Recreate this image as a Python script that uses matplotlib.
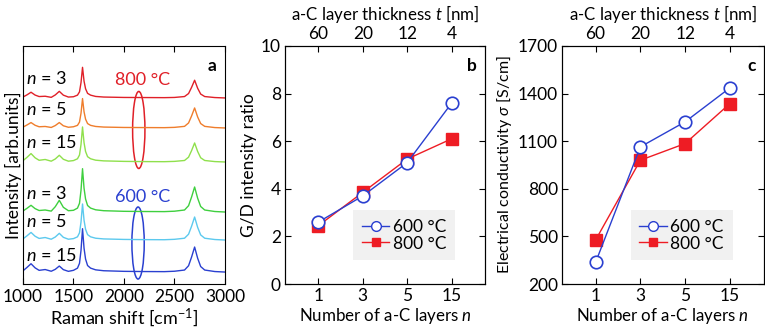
import numpy as np
import matplotlib
matplotlib.use('Agg')
import matplotlib.pyplot as plt
from matplotlib.patches import Ellipse
from matplotlib.lines import Line2D

plt.rcParams['font.family'] = ['Lato', 'DejaVu Sans']
plt.rcParams['font.size'] = 12
plt.rcParams['mathtext.fontset'] = 'custom'
plt.rcParams['mathtext.it'] = 'Lato:italic'
plt.rcParams['mathtext.rm'] = 'Lato'

# ---- panel a: Raman spectra (intensity above own baseline, arb. units) ----
raman_x = [1000, 1040, 1080, 1120, 1160, 1220, 1280, 1320, 1360, 1400, 1450, 1500,
           1540, 1560, 1575, 1590, 1605, 1620, 1640, 1670, 1720, 1800, 2000, 2200,
           2400, 2500, 2600, 2640, 2670, 2700, 2730, 2760, 2800, 2900, 3000]
spec_800_n3 = [0.9, 3.1, 5.7, 2.9, 1.4, 1.7, 0.6, 3.0, 6.6, 2.8, 0.9, 1.2, 2.8, 6.1, 15.3, 30.6,
               16.8, 9.2, 4.6, 2.8, 1.5, 0.9, 0.5, 0.4, 0.3, 0.5, 1.4, 4.4, 10.6, 17.7, 9.7, 3.9,
               1.4, 0.4, 0.0]
spec_800_n5 = [0.8, 3.0, 5.4, 2.7, 1.2, 1.5, 0.5, 2.4, 5.4, 2.2, 0.7, 1.2, 2.6, 5.9, 14.7, 29.4,
               16.2, 8.8, 4.4, 2.6, 1.5, 0.9, 0.5, 0.4, 0.3, 0.6, 1.6, 5.0, 12.0, 20.0, 11.0, 4.4,
               1.6, 0.4, 0.0]
spec_800_n15 = [1.3, 4.6, 8.4, 4.2, 1.7, 2.5, 0.8, 3.0, 6.7, 2.7, 0.8, 1.4, 3.2, 7.0, 17.5, 35.0,
                19.3, 10.5, 5.3, 3.2, 1.8, 1.1, 0.6, 0.4, 0.3, 0.6, 1.5, 4.8, 11.4, 19.0, 10.5, 4.2,
                1.5, 0.4, 0.0]
spec_600_n3 = [1.0, 3.7, 6.7, 3.4, 1.5, 2.0, 0.9, 5.3, 11.7, 4.7, 1.3, 1.7, 3.9, 8.7, 21.7, 43.3,
               23.8, 13.0, 6.5, 3.9, 2.2, 1.3, 0.7, 0.5, 0.4, 0.8, 2.0, 6.3, 15.0, 25.0, 13.8, 5.5,
               2.0, 0.5, 0.0]
spec_600_n5 = [1.1, 4.2, 7.6, 3.8, 1.6, 2.5, 0.8, 3.0, 6.7, 2.7, 0.8, 1.4, 3.2, 7.2, 18.0, 36.0,
               19.8, 10.8, 5.4, 3.2, 1.8, 1.1, 0.6, 0.4, 0.3, 0.7, 1.8, 5.8, 13.8, 23.0, 12.7, 5.1,
               1.8, 0.5, 0.0]
spec_600_n15 = [1.2, 4.6, 8.3, 4.2, 1.7, 2.5, 0.8, 2.7, 6.0, 2.4, 0.7, 1.7, 3.9, 8.7, 21.7, 43.3,
                23.8, 13.0, 6.5, 3.9, 2.2, 1.3, 0.7, 0.5, 0.4, 0.8, 2.0, 6.3, 15.0, 25.0, 13.8, 5.5,
                2.0, 0.5, 0.0]
spec_labels = ['3', '5', '15', '3', '5', '15']

# ---- panels b and c ----
n_layers = ['1', '3', '5', '15']
thickness = ['60', '20', '12', '4']
gd_600 = [2.6, 3.7, 5.1, 7.6]
gd_800 = [2.45, 3.85, 5.25, 6.1]
sigma_600 = [336, 1064, 1222, 1436]
sigma_800 = [477, 980, 1085, 1337]

c600 = '#2a3fd0'
c800 = '#ee1c24'
TICK = 12.5

fig = plt.figure(figsize=(7.65, 3.28), dpi=100)

# ---------- panel a ----------
ax = fig.add_axes([0.030, 0.134, 0.264, 0.726])
spectra = [spec_800_n3, spec_800_n5, spec_800_n15, spec_600_n3, spec_600_n5, spec_600_n15]
colors = ['#e02028', '#ef7d2c', '#8fe04c', '#3fcf3f', '#5cc9ee', '#2a40d0']
offsets = [186, 156, 122, 72, 44, 12]
label_y = [205.7, 174, 141.3, 90.7, 62.3, 29]
for s, c, off, lab, ly in zip(spectra, colors, offsets, spec_labels, label_y):
    ax.plot(raman_x, np.array(s) + off, color=c, lw=1.0)
    ax.text(1030, ly, '$n$ = ' + lab, fontsize=13, va='center', ha='left')

ax.add_patch(Ellipse((2147, 154), 122, 77, fill=False, ec='#e02028', lw=1.1))
ax.add_patch(Ellipse((2140, 41), 122, 72, fill=False, ec='#2a40d0', lw=1.1))
ax.text(2185, 204, '800 °C', color='#e02028', fontsize=13, ha='center', va='center')
ax.text(2190, 87, '600 °C', color='#2a40d0', fontsize=13, ha='center', va='center')
ax.text(0.96, 0.95, 'a', transform=ax.transAxes, fontweight='bold', ha='right', va='top', fontsize=12.5)

ax.set_xlim(1000, 3000)
ax.set_ylim(0, 238)
ax.set_xticks([1000, 1500, 2000, 2500, 3000])
ax.set_yticks([])
ax.tick_params(axis='x', direction='in', top=True, length=4, labelsize=TICK)
ax.set_xlabel('Raman shift [cm$^{\\mathregular{-1}}$]', fontsize=13, labelpad=1)
ax.set_ylabel('Intensity [arb.units]', fontsize=12.5, labelpad=1)


def scatter_panel(ax, y600, y800, ylim, yticks, ylabel, ylabel_size, letter):
    x = np.arange(len(n_layers))
    ax.plot(x, y800, color=c800, lw=1.0, marker='s', ms=8, mfc=c800, mec=c800, zorder=2)
    ax.plot(x, y600, color=c600, lw=1.0, marker='o', ms=9, mfc='white', mec=c600, mew=1.2, zorder=3)
    ax.set_xlim(-0.75, 3.75)
    ax.set_ylim(*ylim)
    ax.set_xticks(x)
    ax.set_xticklabels(n_layers)
    ax.set_yticks(yticks)
    ax.tick_params(direction='in', right=True, length=4, labelsize=TICK, pad=3)
    ax.set_xlabel('Number of a-C layers $n$', fontsize=12.2, labelpad=1)
    ax.set_ylabel(ylabel, fontsize=ylabel_size, labelpad=3)
    top = ax.twiny()
    top.set_xlim(ax.get_xlim())
    top.set_xticks(x)
    top.set_xticklabels(thickness)
    top.tick_params(direction='in', length=4, labelsize=TICK, pad=3)
    top.set_xlabel('a-C layer thickness $t$ [nm]', fontsize=12.2, labelpad=4)
    ax.text(0.96, 0.95, letter, transform=ax.transAxes, fontweight='bold', ha='right', va='top', fontsize=12.5)
    handles = [Line2D([], [], color=c600, lw=1.0, marker='o', ms=7, mfc='white', mec=c600),
               Line2D([], [], color=c800, lw=1.0, marker='s', ms=6, mfc=c800, mec=c800)]
    ax.legend(handles, ['600 °C', '800 °C'], loc='lower left', bbox_to_anchor=(0.34, 0.10),
              frameon=True, fancybox=False, facecolor='#f1f1f1', edgecolor='none',
              framealpha=1, fontsize=12.5, handlelength=1.6, handletextpad=0.2,
              labelspacing=0.05, borderpad=0.5, borderaxespad=0)


axb = fig.add_axes([0.3725, 0.134, 0.2615, 0.726])
scatter_panel(axb, gd_600, gd_800, (0, 10), [0, 2, 4, 6, 8, 10], 'G/D intensity ratio', 12.5, 'b')

axc = fig.add_axes([0.7346, 0.134, 0.2635, 0.726])
scatter_panel(axc, sigma_600, sigma_800, (200, 1700), [200, 500, 800, 1100, 1400, 1700],
              'Electrical conductivity $\\sigma$ [S/cm]', 11.5, 'c')

fig.savefig('out.png', dpi=100)
